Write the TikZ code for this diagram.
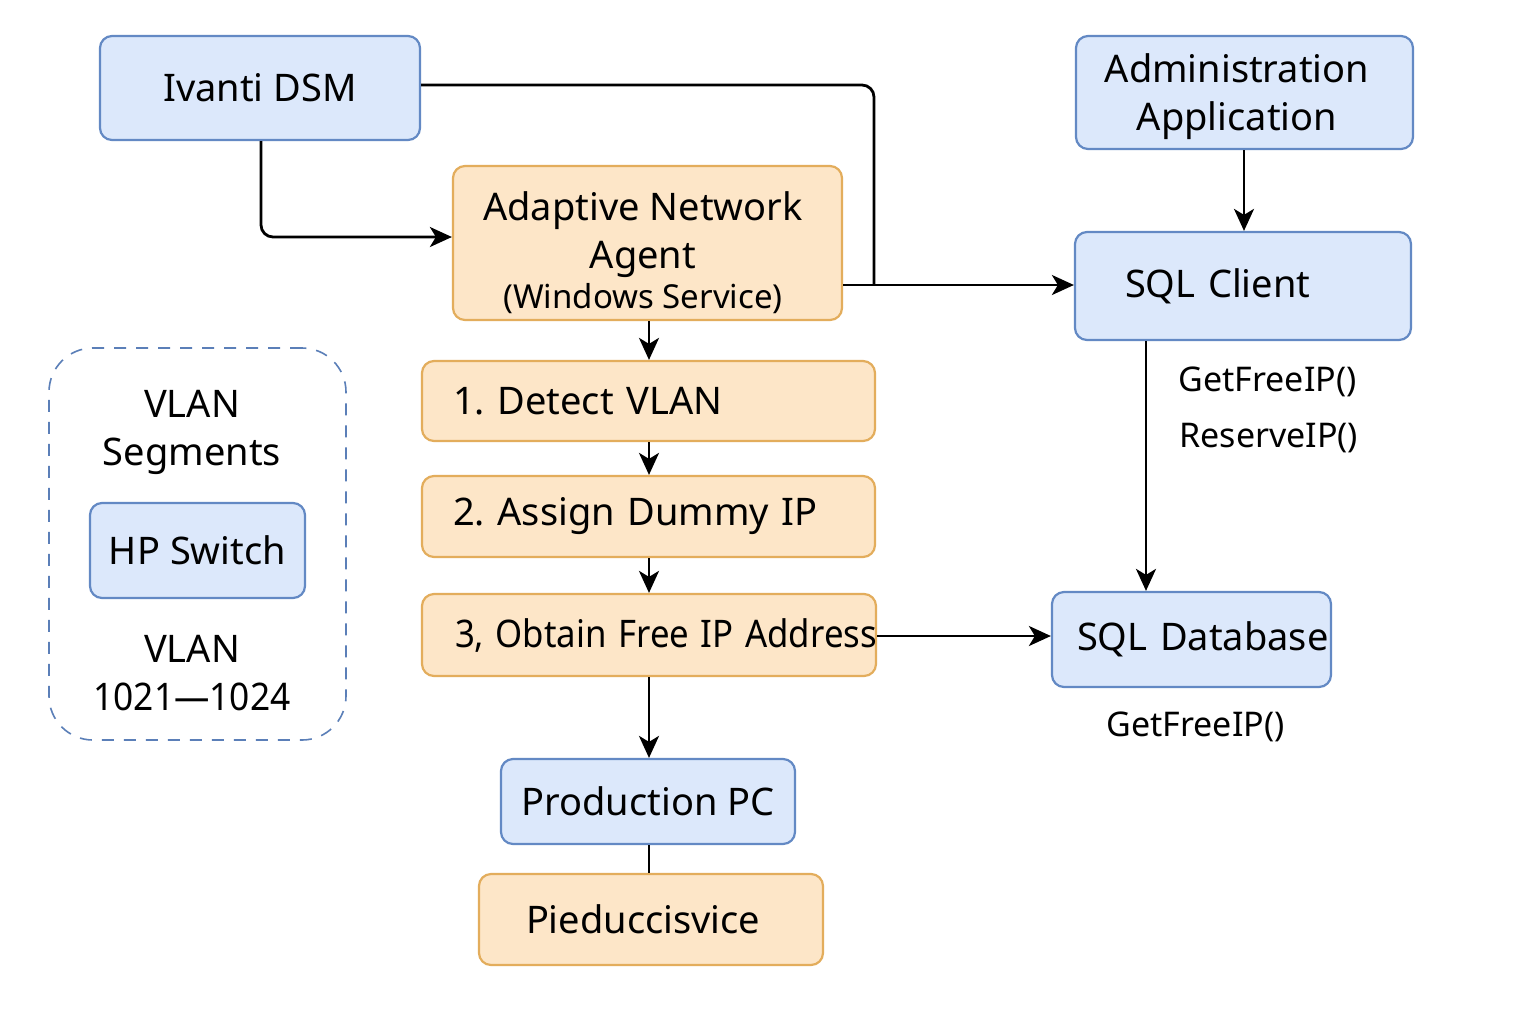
\documentclass[tikz,border=0pt]{standalone}
\usepackage{fontspec}
\usepackage{graphicx}
\setmainfont{Noto Sans}
\usetikzlibrary{arrows.meta,calc}
\definecolor{bfill}{HTML}{DCE8FB}
\definecolor{bdraw}{HTML}{6389C4}
\definecolor{ofill}{HTML}{FDE6C8}
\definecolor{odraw}{HTML}{E3AD5C}
\definecolor{dashc}{HTML}{5B7FB8}
\begin{document}
\frenchspacing
\begin{tikzpicture}[x=0.5pt,y=-0.5pt,
  bluebox/.style={draw=bdraw, fill=bfill, line width=1.1pt, rounded corners=6pt, inner sep=0pt},
  orangebox/.style={draw=odraw, fill=ofill, line width=1.1pt, rounded corners=6pt, inner sep=0pt},
  arr/.style={-{Stealth[length=11pt,width=10pt,inset=3pt]}, line width=1.4pt},
  conn/.style={line width=1.4pt},
  big/.style={font=\fontsize{19}{24}\selectfont},
  txt/.style={inner sep=0pt},
  lbl/.style={font=\fontsize{17}{20}\selectfont, inner sep=0pt}]
\useasboundingbox (0,0) rectangle (1536,1024);
\fill[white] (0,0) rectangle (1536,1024);

% VLAN group
\node[draw=dashc, dash pattern=on 6pt off 5pt, line width=0.8pt, rounded corners=22pt,
      minimum width=148.5pt, minimum height=196pt] (vlanbox) at (197.5,544) {};
\node[big, txt, align=center] (vlantop) at (192,432) {VLAN\\Segments};
\node[bluebox, big, minimum width=107.5pt, minimum height=47.5pt] (hp) at (197.5,550.5) {HP Switch};
\node[big, txt, align=center] (vlanbot) at (192,673) {VLAN\\\scalebox{0.93}[1]{1021—1024}};

% Left column
\node[bluebox, big, minimum width=160pt, minimum height=52pt] (ivanti) at (260,88) {Ivanti DSM};
\node[orangebox, minimum width=194.5pt, minimum height=77pt] (agent) at (647.5,243) {};
\node[big, txt, align=center] (agenttxt) at (643,253)
  {Adaptive Network\\Agent\\[-4pt]{\fontsize{16.5}{20}\selectfont (Windows Service)}};
\node[orangebox, big, minimum width=226.5pt, minimum height=40pt, text width=195.5pt, align=left] (detect) at (648.5,401) {\mbox{1. Detect VLAN}};
\node[orangebox, big, minimum width=226.5pt, minimum height=40.5pt, text width=195.5pt, align=left] (assign) at (648.5,516.5) {\mbox{2. Assign Dummy IP}};
\node[orangebox, big, minimum width=227pt, minimum height=41pt, text width=194pt, align=left] (obtain) at (649,635) {\mbox{\scalebox{0.915}[1]{3, Obtain Free IP Address}}};
\node[bluebox, big, minimum width=147pt, minimum height=42.5pt] (prodpc) at (648,801.5) {Production PC};
\node[orangebox, big, minimum width=172pt, minimum height=45.5pt, text width=125pt, align=left] (piedu) at (651,919.5) {\mbox{Pieduccisvice}};

% Right column
\node[bluebox, minimum width=168.5pt, minimum height=56.5pt] (admin) at (1244.5,92.5) {};
\node[big, txt, align=center] (admintxt) at (1237,97) {Administration\\Application};
\node[bluebox, big, minimum width=168pt, minimum height=54pt, text width=118pt, align=left] (sqlc) at (1243,286) {\mbox{SQL Client}};
\node[bluebox, big, minimum width=139.5pt, minimum height=47.5pt, text width=114.5pt, align=left] (sqldb) at (1191.5,639.5) {\mbox{SQL Database}};

% Labels
\node[lbl, anchor=west] (l1) at (1178,382) {GetFreeIP()};
\node[lbl, anchor=west] (l2) at (1179,438) {ReserveIP()};
\node[lbl] (l3) at (1195.5,727) {GetFreeIP()};

% Connectors
\coordinate (j) at (874,285);
\coordinate (cx) at (1146,0);
\coordinate (mx) at (649,0);
\coordinate (ax) at (1244,0);
\coordinate (ix) at (261,0);
\draw[arr, rounded corners=6pt] (ivanti.south -| ix) |- ($(agent.west)+(0,-6)$);
\draw[conn, rounded corners=6pt] ($(ivanti.east)+(0,-3)$) -| (j);
\draw[arr] (agent.east |- j) -- (sqlc.west |- j);
\draw[arr] (agent.south -| mx) -- (detect.north -| mx);
\draw[arr] (detect.south -| mx) -- (assign.north -| mx);
\draw[arr] (assign.south -| mx) -- (obtain.north -| mx);
\draw[arr] (obtain.south -| mx) -- (prodpc.north -| mx);
\draw[conn] (prodpc.south -| mx) -- (piedu.north -| mx);
\draw[arr] ($(obtain.east)+(0,1)$) -- ($(sqldb.west |- obtain.east)+(0,1)$);
\draw[arr] (admin.south -| ax) -- (sqlc.north -| ax);
\draw[arr] (sqlc.south -| cx) -- (sqldb.north -| cx);
\end{tikzpicture}
\end{document}
